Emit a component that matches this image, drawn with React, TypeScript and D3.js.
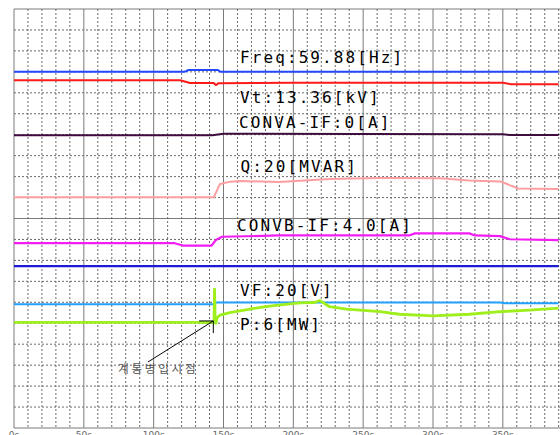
import React from "react";
import * as d3 from "d3";

type Pt = [number, number];

// time in seconds, value in screen divisions (0 = bottom, 20 = top)
const freq: Pt[] = [[0, 17.0], [122, 17.0], [125, 17.09], [146, 17.09], [148, 17.0], [390, 17.0]];
const vt: Pt[] = [[0, 16.6], [119, 16.6], [126, 16.47], [143, 16.47], [144.5, 16.37], [146.5, 16.46], [200, 16.48], [350, 16.48], [356, 16.41], [390, 16.41]];
const convaIf: Pt[] = [[0, 13.97], [142, 13.97], [150, 14.05], [250, 14.03], [350, 14.02], [355, 13.99], [390, 13.99]];
const q: Pt[] = [[0, 11.01], [143, 11.01], [147.5, 11.65], [155, 11.76], [162, 11.79], [190, 11.74], [205, 11.8], [226, 11.89], [262, 11.93], [305, 11.92], [326, 11.81], [348, 11.77], [354, 11.62], [361, 11.43], [390, 11.41]];
const convbIf: Pt[] = [[0, 8.82], [115, 8.82], [121, 8.71], [141.5, 8.71], [144.5, 8.97], [149, 9.13], [190, 9.19], [283, 9.19], [287, 9.29], [326, 9.29], [330, 9.19], [348, 9.16], [355, 9.01], [390, 8.97]];
const navy: Pt[] = [[0, 7.73], [390, 7.73]];
const vf: Pt[] = [[0, 5.91], [142.5, 5.91], [145, 5.99], [348, 5.99], [352, 5.96], [390, 5.96]];
const p: Pt[] = [[0, 5.04], [143.2, 5.04], [143.6, 6.63], [144.0, 5.2], [144.6, 5.0], [145.3, 5.25], [147.5, 5.39], [154.6, 5.51], [169, 5.68], [183, 5.82], [197.6, 5.92], [205, 5.97], [215, 5.99], [219, 6.08], [226, 5.79], [238, 5.67], [262, 5.55], [276, 5.43], [300, 5.35], [326, 5.43], [348, 5.55], [369, 5.63], [390, 5.72]];

const series = [
  { name: "navy", data: navy, color: "#1c1cd2", width: 2.2 },
  { name: "freq", data: freq, color: "#2448ff", width: 2 },
  { name: "vt", data: vt, color: "#ff1a1a", width: 2 },
  { name: "conva", data: convaIf, color: "#3e0c3e", width: 2 },
  { name: "q", data: q, color: "#ff9e9e", width: 2 },
  { name: "convb", data: convbIf, color: "#f41cf4", width: 2.2 },
  { name: "vf", data: vf, color: "#22a2ff", width: 2 },
  { name: "p", data: p, color: "#9eef1c", width: 2.8 },
];

const labels = [
  { text: "Freq:59.88[Hz]", t: 161.8, v: 17.44 },
  { text: "Vt:13.36[kV]", t: 161.8, v: 15.51 },
  { text: "CONVA-IF:0[A]", t: 161.1, v: 14.31 },
  { text: "Q:20[MVAR]", t: 162.2, v: 12.23 },
  { text: "CONVB-IF:4.0[A]", t: 159.7, v: 9.4 },
  { text: "VF:20[V]", t: 161.8, v: 6.3 },
  { text: "P:6[MW]", t: 161.8, v: 4.68 },
];

const timeTicks = [0, 50, 100, 150, 200, 250, 300, 350];
const tickLabels = ["0s", "50s", "100s", "150s", "200s", "250s", "300s", "350s"];

const annotText = "계통병입시점";
const annotFrom: Pt = [95.9, 3.15];
const annotTo: Pt = [142.7, 5.11];
const annotHookStart: Pt = [132.5, 5.11];
const annotHookEnd: Pt = [142.7, 4.53];
const annotTextPos: Pt = [74.5, 2.63];

export default function App() {
  const W = 560, H = 435;
  const x = d3.scaleLinear().domain([0, 390]).range([14, 558.7]);
  const y = d3.scaleLinear().domain([0, 20]).range([428, 9]);
  const line = d3.line<Pt>().x(d => x(d[0])).y(d => y(d[1]));

  const vTicks = d3.range(0, 391, 10);
  const hTicks = d3.range(0, 21, 1);

  return (
    <svg width={W} height={H} style={{ position: "absolute", left: 0, top: 0, background: "#fff" }}>
      <rect x={0} y={0} width={W} height={H} fill="#fff" />
      {hTicks.map(h => {
        const major = h % 10 === 0;
        return (
          <line key={"h" + h} x1={x(0)} x2={W} y1={y(h)} y2={y(h)}
            stroke={major ? "#7a7a7a" : "#6a6a6a"} strokeWidth={1}
            strokeDasharray={major ? undefined : "2,2"} />
        );
      })}
      {vTicks.map(t => {
        const major = t % 50 === 0;
        return (
          <line key={"v" + t} x1={x(t)} x2={x(t)} y1={y(20)} y2={y(0)}
            stroke={major ? "#7a7a7a" : "#6a6a6a"} strokeWidth={1}
            strokeDasharray={major ? undefined : "2,2"} />
        );
      })}
      {timeTicks.map((t, i) => (
        <text key={"tl" + i} x={x(t)} y={438} textAnchor="middle" fontSize={9}
          fontFamily="DejaVu Sans, sans-serif" fill="#666">{tickLabels[i]}</text>
      ))}
      {series.map(s => (
        <path key={s.name} d={line(s.data) || ""} fill="none" stroke={s.color}
          strokeWidth={s.width} strokeLinejoin="round" />
      ))}
      {labels.map(l => (
        <text key={l.text} x={x(l.t)} y={y(l.v)} fontSize={16} letterSpacing={2.1}
          fontFamily="DejaVu Sans Mono, monospace" fill="#000">{l.text}</text>
      ))}
      <line x1={x(annotFrom[0])} y1={y(annotFrom[1])} x2={x(annotTo[0])} y2={y(annotTo[1])}
        stroke="#000" strokeWidth={1} />
      <path d={`M${x(annotHookStart[0])},${y(annotHookStart[1])} L${x(annotTo[0])},${y(annotTo[1])} L${x(annotHookEnd[0])},${y(annotHookEnd[1])}`}
        fill="none" stroke="#000" strokeWidth={1} />
      <text x={x(annotTextPos[0])} y={y(annotTextPos[1])} fontSize={11.5} letterSpacing={2.8}
        fontFamily="Noto Sans CJK KR, sans-serif" fill="#555">{annotText}</text>
    </svg>
  );
}
